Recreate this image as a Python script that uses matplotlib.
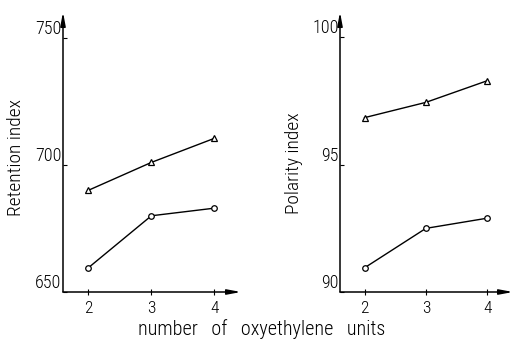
import matplotlib.pyplot as plt

# oxyethylene units on x, two stationary phases per panel
units = [2, 3, 4]
ret_tri = [690, 701, 710.5]
ret_circ = [659.5, 680, 683]
pol_tri = [96.85, 97.45, 98.3]
pol_circ = [90.95, 92.5, 92.9]

plt.rcParams["font.family"] = ["Roboto Condensed", "DejaVu Sans"]
plt.rcParams["font.stretch"] = "condensed"
plt.rcParams["font.weight"] = "light"

fig = plt.figure(figsize=(5.15, 3.39), dpi=100)
ax1 = fig.add_axes([63 / 515, 47 / 339, 178 / 515, 280 / 339])
ax2 = fig.add_axes([340 / 515, 47 / 339, 173 / 515, 280 / 339])


def setup(ax, ylim, yt):
    ax.set_xlim(1.6, 4.42)
    ax.set_ylim(*ylim)
    for s in ax.spines.values():
        s.set_visible(False)
    # axes drawn as arrows
    for end in [(1, 0), (0, 1)]:
        ax.annotate("", xy=end, xytext=(0, 0), xycoords="axes fraction",
                    arrowprops=dict(arrowstyle="-|>,head_length=0.8,head_width=0.15",
                                    color="black", lw=1.1, shrinkA=0, shrinkB=0))
    ax.set_xticks(units)
    ax.set_yticks(yt)
    ax.tick_params(axis="x", direction="inout", length=5, width=0.8, pad=4, labelsize=12.5)
    ax.tick_params(axis="y", direction="in", length=3, width=0.8, pad=1, labelsize=13)
    for lab in ax.get_yticklabels():
        lab.set_verticalalignment("bottom")
    ax.patch.set_visible(False)


setup(ax1, (650, 760.2), [650, 700, 750])
setup(ax2, (90, 101.0), [90, 95, 100])

for ax, tri, circ in [(ax1, ret_tri, ret_circ), (ax2, pol_tri, pol_circ)]:
    ax.plot(units, tri, color="black", lw=1.0, marker="^", ms=4,
            mfc="white", mec="black", mew=0.9, clip_on=False)
    ax.plot(units, circ, color="black", lw=1.0, marker="o", ms=4,
            mfc="white", mec="black", mew=0.9, clip_on=False)

fig.text(16 / 515, 1 - 157 / 339, "Retention index", rotation=90,
         ha="center", va="center", fontsize=14)
fig.text(294 / 515, 1 - 163 / 339, "Polarity index", rotation=90,
         ha="center", va="center", fontsize=14)
fig.text(262 / 515, 1 - 335 / 339, "number   of   oxyethylene   units",
         ha="center", va="baseline", fontsize=14.5)

fig.savefig("out.png", dpi=100)
